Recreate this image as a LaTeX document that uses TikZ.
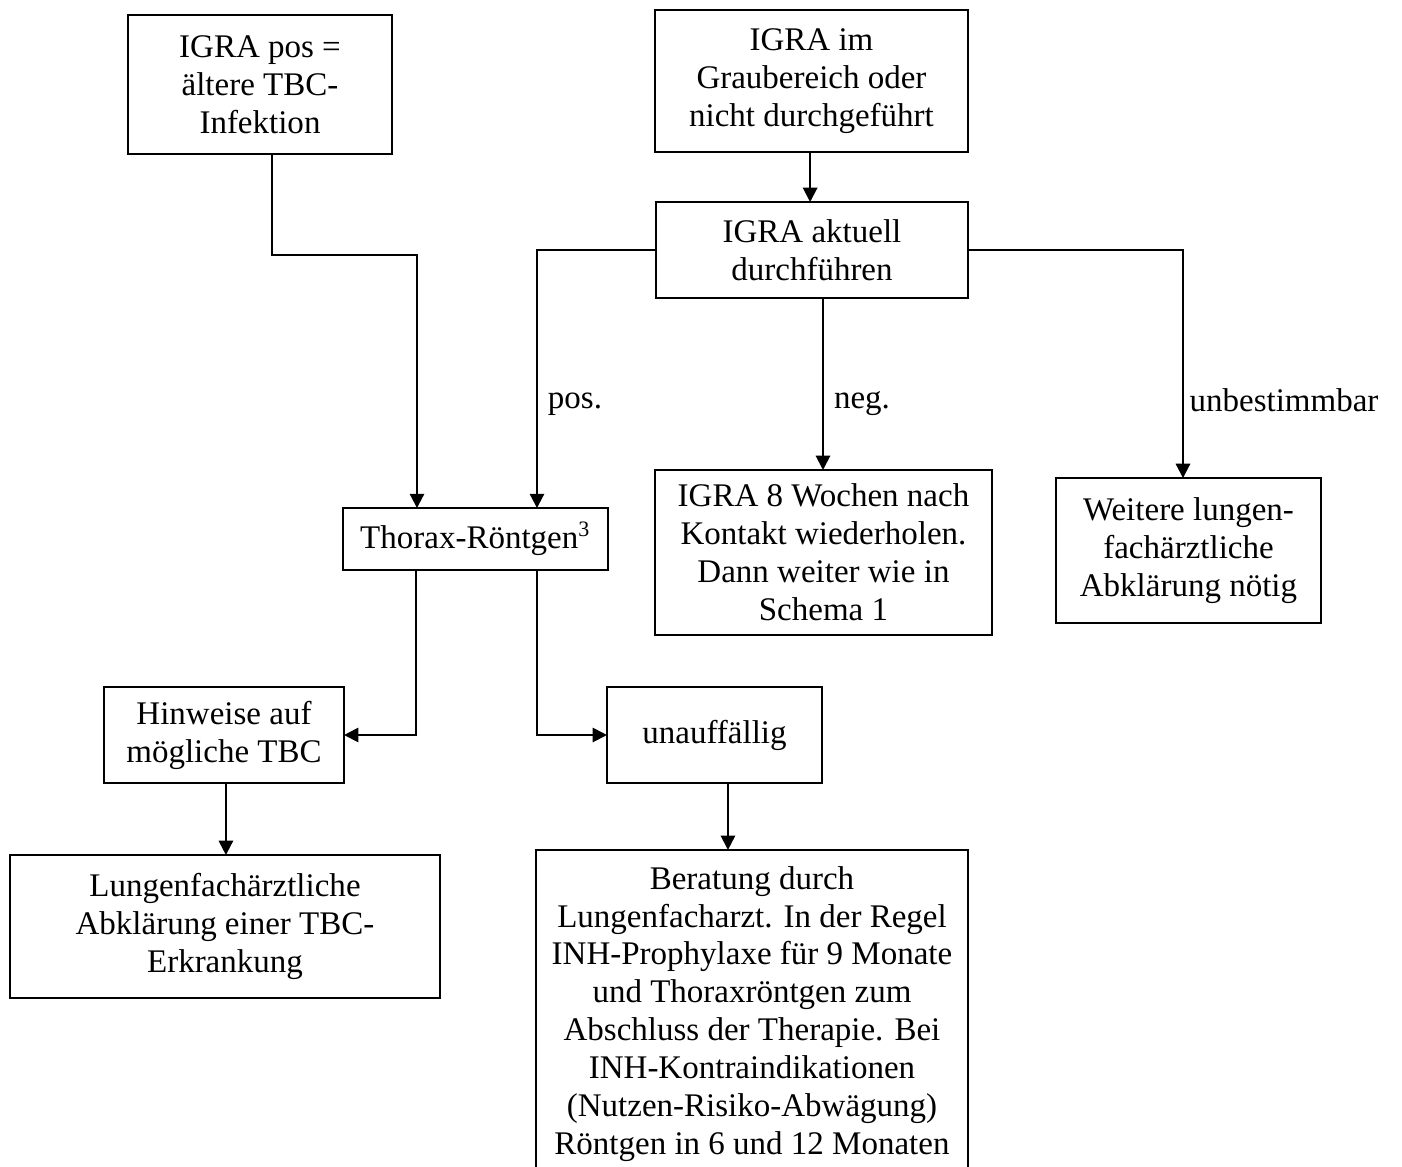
\documentclass[tikz,border=0pt]{standalone}
\usepackage{fontspec}
\setmainfont{Liberation Serif}
\usetikzlibrary{arrows.meta}
\begin{document}
\begin{tikzpicture}[x=0.3636pt,y=-0.3636pt,
  every node/.style={font=\fontsize{12pt}{13.8pt}\selectfont, inner sep=0pt, outer sep=0pt},
  box/.style={draw, line width=0.73pt, align=center},
  lbl/.style={align=center},
  arr/.style={line width=0.73pt, -{Triangle[length=5.2pt,width=5.2pt]}},
  ln/.style={line width=0.73pt}]
\useasboundingbox (0,0) rectangle (1402,1167);
\clip (0,0) rectangle (1402,1167);
\node[box, minimum width=96.0pt, minimum height=50.5pt] (A) at (260,84.5) {IGRA pos =\\ältere TBC-\\Infektion};
\node[box, minimum width=113.8pt, minimum height=51.6pt] (B) at (811.5,81) {IGRA im\\Graubereich oder\\nicht durchgeführt};
\node[box, minimum width=113.4pt, minimum height=34.9pt] (C) at (812,250) {IGRA aktuell\\durchführen};
\node[box, minimum width=96.4pt, minimum height=22.5pt] (D) at (475.5,539) {Thorax-Röntgen\textsuperscript{3}};
\node[box, minimum width=122.5pt, minimum height=60pt] (E) at (823.5,552.5) {IGRA 8 Wochen nach\\Kontakt wiederholen.\\Dann weiter wie in\\Schema 1};
\node[box, minimum width=96.4pt, minimum height=52.7pt] (F) at (1188.5,550.5) {Weitere lungen-\\fachärztliche\\Abklärung nötig};
\node[box, minimum width=87.3pt, minimum height=34.9pt] (G) at (224,735) {Hinweise auf\\mögliche TBC};
\node[box, minimum width=78.2pt, minimum height=34.9pt] (H) at (714.5,735) {unauffällig};
\node[box, minimum width=156.4pt, minimum height=52pt] (I) at (225,926.5) {Lungenfachärztliche\\Abklärung einer TBC-\\Erkrankung};
\node[box, minimum width=157.1pt, minimum height=119.3pt] (J) at (752,1014) {Beratung durch\\Lungenfacharzt. In der Regel\\INH-Prophylaxe für 9 Monate\\und Thoraxröntgen zum\\Abschluss der Therapie. Bei\\INH-Kontraindikationen\\(Nutzen-Risiko-Abwägung)\\Röntgen in 6 und 12 Monaten};
\node[lbl] (lpos) at (575,404) {pos.};
\node[lbl] (lneg) at (862,404) {neg.};
\node[lbl] (lunb) at (1284,400) {unbestimmbar};
% connectors
\draw[arr] ([xshift=4.36pt]A.south) -- ++(0,101) -| ([xshift=-21.27pt]D.north);
\draw[arr] ([xshift=-0.5pt]B.south) -- ([xshift=-0.5pt]B.south |- C.north);
\draw[arr] (C.west) -| ([xshift=22.36pt]D.north);
\draw[arr] ([xshift=4pt]C.south) -- ([xshift=4pt]C.south |- E.north);
\draw[arr] (C.east) -| ([xshift=-2pt]F.north);
\draw[arr] ([xshift=-21.6pt]D.south) |- (G.east);
\draw[arr] ([xshift=22.36pt]D.south) |- (H.west);
\draw[arr] ([xshift=0.7pt]G.south) -- ([xshift=0.7pt]G.south |- I.north);
\draw[arr] ([xshift=4.9pt]H.south) -- ([xshift=4.9pt]H.south |- J.north);
\end{tikzpicture}
\end{document}
